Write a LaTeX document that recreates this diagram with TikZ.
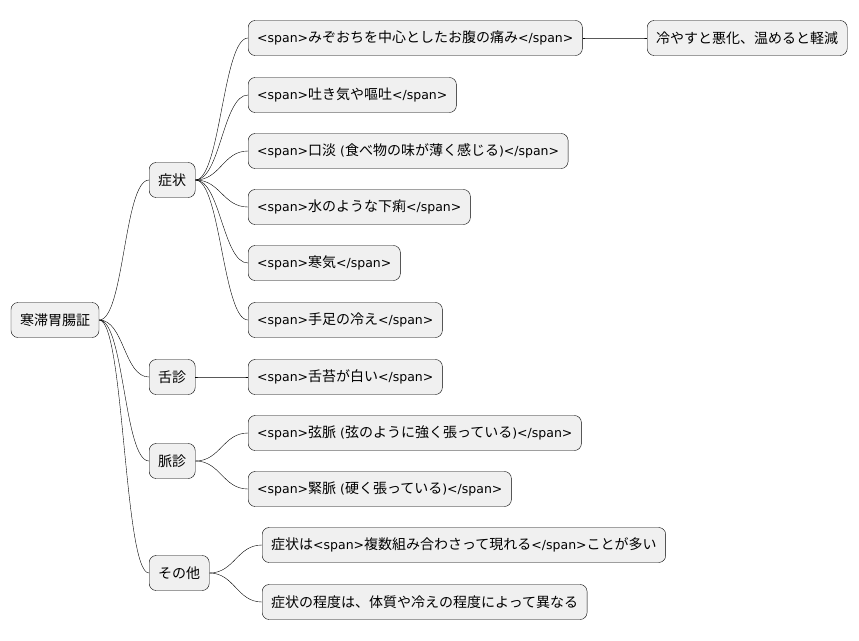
\documentclass[tikz,border=0pt]{standalone}
\usepackage{fontspec}
\setmainfont{Noto Sans CJK JP}
\newfontfamily\latinfont{DejaVu Sans}
\usetikzlibrary{positioning}

\newcommand{\lt}[1]{{\latinfont\fontsize{12.5}{15}\selectfont #1}}
\newcommand{\spn}[1]{\lt{<span>}#1\lt{</span>}}

\tikzset{
  topic/.style={draw=black, fill=black!6, rounded corners=7pt, thin,
    minimum height=35pt, inner xsep=9pt, font=\fontsize{14}{16}\selectfont},
  branch/.style={draw=black, thin},
}

\begin{document}
\begin{tikzpicture}[x=1pt, y=-1pt]
  \useasboundingbox (0,0) rectangle (859,640);
  % root and first level
  \node[topic] (root) at (55,320) {寒滞胃腸証};
  \node[topic, anchor=west] (sym) at (149,180) {症状};
  \node[topic, anchor=west] (tongue) at (149,377) {舌診};
  \node[topic, anchor=west] (pulse) at (149,461) {脈診};
  \node[topic, anchor=west] (other) at (149,573) {その他};
  % symptoms
  \node[topic, anchor=west] (s1) at (248,38) {\spn{みぞおちを中心としたお腹の痛み}};
  \node[topic, anchor=west] (s1a) at (647,38) {冷やすと悪化、温めると軽減};
  \node[topic, anchor=west] (s2) at (248,95) {\spn{吐き気や嘔吐}};
  \node[topic, anchor=west] (s3) at (248,151) {\spn{口淡\lt{ (}食べ物の味が薄く感じる\lt{)}}};
  \node[topic, anchor=west] (s4) at (248,207) {\spn{水のような下痢}};
  \node[topic, anchor=west] (s5) at (248,263) {\spn{寒気}};
  \node[topic, anchor=west] (s6) at (248,320) {\spn{手足の冷え}};
  % tongue, pulse, other
  \node[topic, anchor=west] (t1) at (248,377) {\spn{舌苔が白い}};
  \node[topic, anchor=west] (p1) at (248,433) {\spn{弦脈\lt{ (}弦のように強く張っている\lt{)}}};
  \node[topic, anchor=west] (p2) at (248,489) {\spn{緊脈\lt{ (}硬く張っている\lt{)}}};
  \node[topic, anchor=west] (o1) at (262,545) {症状は\spn{複数組み合わさって現れる}ことが多い};
  \node[topic, anchor=west] (o2) at (262,602) {症状の程度は、体質や冷えの程度によって異なる};
  % connectors
  \foreach \p/\c in {root/sym, root/tongue, root/pulse, root/other,
      sym/s1, sym/s2, sym/s3, sym/s4, sym/s5, sym/s6, s1/s1a,
      tongue/t1, pulse/p1, pulse/p2, other/o1, other/o2}
    \draw[branch] (\p.east) .. controls +(25,0) and +(-25,0) .. (\c.west);
\end{tikzpicture}
\end{document}
